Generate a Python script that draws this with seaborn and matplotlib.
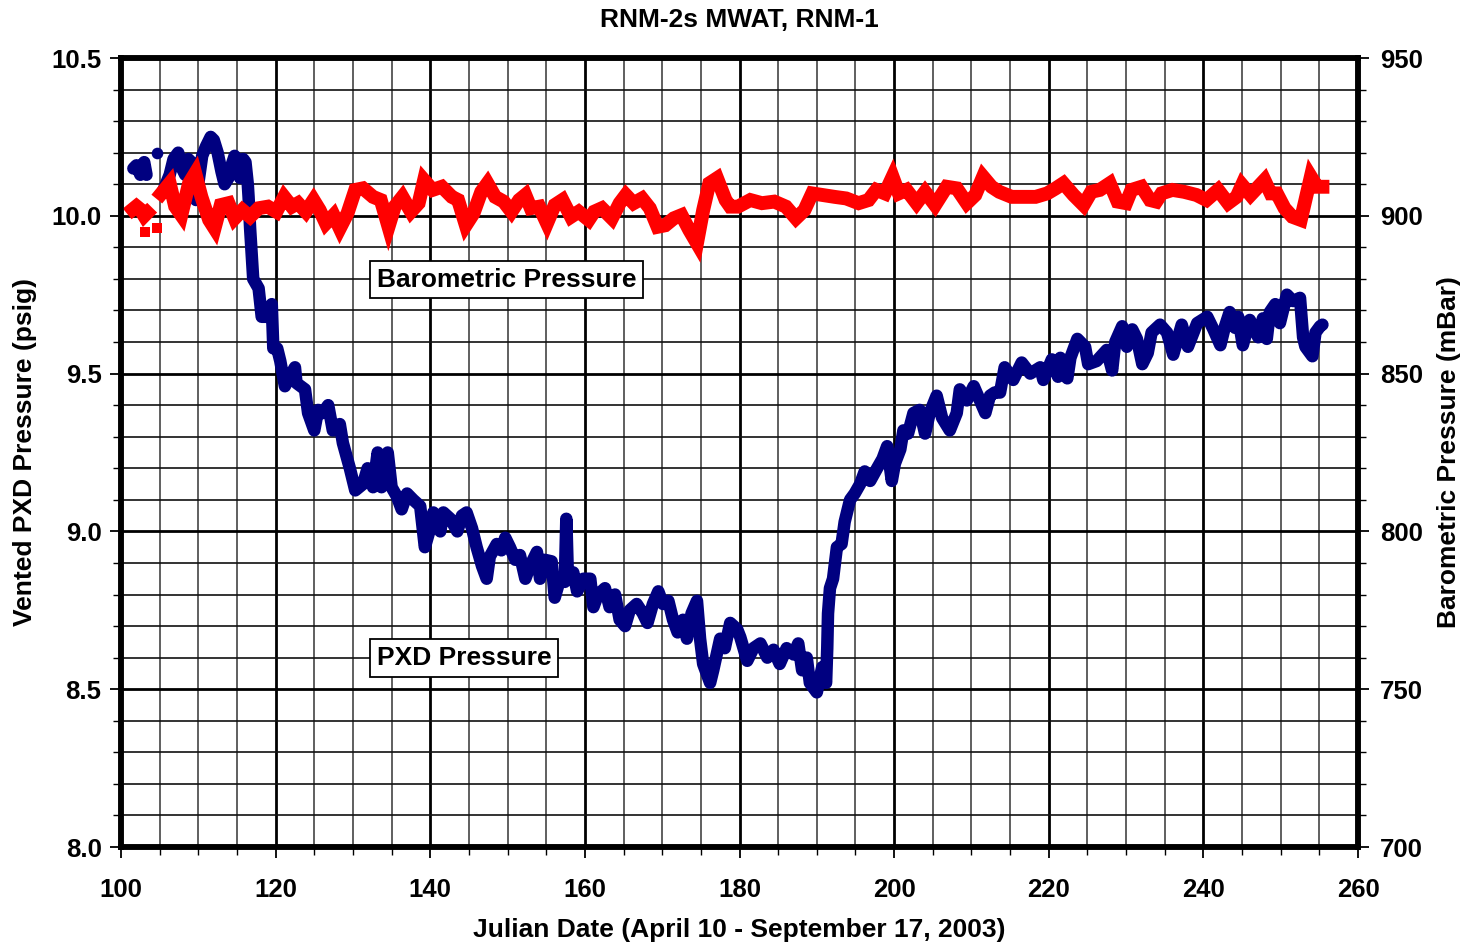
import numpy as np
import pandas as pd
import matplotlib
matplotlib.use("Agg")
import matplotlib.pyplot as plt
from matplotlib.ticker import MultipleLocator, FormatStrFormatter
import seaborn as sns

# ---------------- data ----------------
title = "RNM-2s MWAT, RNM-1"
xlabel = "Julian Date (April 10 - September 17, 2003)"
ylabel_left = "Vented PXD Pressure (psig)"
ylabel_right = "Barometric Pressure (mBar)"
label_baro = "Barometric Pressure"
label_pxd = "PXD Pressure"

# PXD pressure (psig) - first short cluster, one isolated reading, main record
pxd_day_a = [101.6, 102.0, 102.5, 103.0, 103.3]
pxd_psig_a = [10.15, 10.16, 10.13, 10.17, 10.13]
pxd_day_iso = [104.7]
pxd_psig_iso = [10.20]
pxd_day = [105.3, 105.8, 106.3, 106.8, 107.4, 107.9, 108.3, 108.7, 109.1, 109.4,
           109.7, 110.1, 110.5, 111.0, 111.6, 112.0, 112.5, 113.0, 113.4, 113.9,
           114.3, 114.7, 115.1, 115.4, 115.8, 116.1, 116.4, 116.5, 116.7, 117.1,
           117.8, 118.2, 119.0, 119.5, 119.7, 120.2, 120.6, 121.2, 121.6, 122.5,
           122.7, 123.8, 124.2, 125.0, 125.5, 126.1, 126.8, 127.4, 128.3, 128.7,
           129.6, 130.3, 131.3, 131.9, 132.6, 133.2, 133.7, 134.5, 135.0, 135.7,
           136.3, 137.0, 137.8, 138.7, 139.3, 140.0, 140.4, 141.3, 141.7, 142.6,
           143.5, 144.1, 144.7, 145.4, 146.0, 146.7, 147.3, 147.7, 148.6, 149.2,
           149.7, 150.3, 151.0, 151.6, 152.3, 152.9, 153.8, 154.2, 154.8, 155.7,
           156.1, 156.8, 157.4, 157.6, 157.8, 158.5, 159.0, 159.8, 160.7, 161.1,
           161.7, 162.6, 163.2, 163.9, 164.5, 165.2, 165.8, 166.7, 167.5, 168.1,
           168.8, 169.5, 170.1, 170.8, 171.4, 172.0, 172.7, 173.2, 173.8, 174.5,
           174.9, 175.3, 175.9, 176.2, 176.6, 177.5, 178.1, 178.8, 179.7, 180.1,
           181.0, 181.8, 182.7, 183.6, 184.4, 185.2, 186.1, 187.0, 187.6, 188.1,
           188.7, 189.1, 190.0, 190.7, 191.2, 191.35, 191.45, 191.7, 192.1, 192.6,
           193.2, 193.6, 194.3, 194.9, 195.6, 196.2, 196.9, 197.8, 198.5, 199.1,
           199.7, 200.1, 200.8, 201.2, 201.8, 202.5, 203.3, 204.0, 204.6, 205.5,
           206.2, 207.2, 208.1, 208.5, 209.4, 210.3, 211.8, 212.4, 213.0, 213.7,
           214.3, 215.4, 216.5, 217.6, 218.9, 219.3, 220.4, 221.2, 221.5, 222.4,
           222.8, 223.7, 224.7, 225.1, 226.2, 227.5, 228.2, 228.6, 229.5, 230.1,
           230.8, 231.4, 232.1, 232.8, 233.3, 234.4, 235.3, 236.1, 237.2, 238.0,
           239.2, 240.5, 241.3, 242.2, 242.8, 243.4, 244.1, 244.5, 245.1, 246.0,
           247.1, 247.7, 248.2, 248.6, 249.3, 249.9, 250.8, 251.6, 252.5, 252.9,
           253.2, 254.1, 254.5, 255.1, 255.4]
pxd_psig = [10.07, 10.10, 10.13, 10.18, 10.20, 10.15, 10.13, 10.18, 10.17, 10.12,
            10.05, 10.12, 10.19, 10.22, 10.25, 10.24, 10.20, 10.14, 10.10, 10.12,
            10.16, 10.19, 10.15, 10.12, 10.18, 10.17, 10.10, 10.06, 9.96, 9.80,
            9.77, 9.68, 9.68, 9.72, 9.58, 9.58, 9.54, 9.46, 9.48, 9.52,
            9.47, 9.45, 9.375, 9.32, 9.385, 9.375, 9.40, 9.32, 9.34, 9.28,
            9.20, 9.13, 9.15, 9.20, 9.14, 9.25, 9.14, 9.25, 9.14, 9.11,
            9.07, 9.12, 9.10, 9.08, 8.95, 9.01, 9.06, 9.00, 9.06, 9.04,
            9.00, 9.05, 9.06, 9.01, 8.95, 8.89, 8.85, 8.92, 8.96, 8.94,
            8.98, 8.95, 8.91, 8.925, 8.85, 8.89, 8.935, 8.85, 8.91, 8.905,
            8.79, 8.85, 8.84, 9.04, 8.86, 8.87, 8.81, 8.85, 8.85, 8.76,
            8.80, 8.82, 8.76, 8.80, 8.72, 8.70, 8.75, 8.77, 8.74, 8.71,
            8.77, 8.81, 8.77, 8.78, 8.72, 8.68, 8.72, 8.66, 8.74, 8.78,
            8.66, 8.58, 8.54, 8.52, 8.56, 8.66, 8.63, 8.71, 8.69, 8.665,
            8.59, 8.63, 8.645, 8.60, 8.625, 8.58, 8.63, 8.61, 8.645, 8.56,
            8.60, 8.52, 8.49, 8.57, 8.52, 8.63, 8.74, 8.82, 8.85, 8.95,
            8.96, 9.03, 9.10, 9.12, 9.15, 9.19, 9.16, 9.20, 9.23, 9.27,
            9.16, 9.215, 9.26, 9.32, 9.31, 9.375, 9.385, 9.31, 9.375, 9.43,
            9.36, 9.32, 9.375, 9.45, 9.415, 9.46, 9.375, 9.43, 9.44, 9.44,
            9.52, 9.48, 9.535, 9.50, 9.52, 9.48, 9.545, 9.49, 9.55, 9.485,
            9.55, 9.61, 9.585, 9.53, 9.54, 9.575, 9.51, 9.60, 9.65, 9.585,
            9.64, 9.61, 9.53, 9.565, 9.63, 9.655, 9.63, 9.56, 9.655, 9.585,
            9.66, 9.68, 9.64, 9.59, 9.65, 9.695, 9.645, 9.68, 9.59, 9.67,
            9.615, 9.675, 9.61, 9.695, 9.72, 9.66, 9.75, 9.73, 9.74, 9.615,
            9.585, 9.555, 9.63, 9.65, 9.655]

# Barometric pressure (mBar)
baro_day_a = [101.5, 102.0, 102.5, 103.0, 103.4]
baro_mbar_a = [902.0, 903.0, 902.0, 900.0, 901.0]
baro_day_iso = [103.1, 104.65]
baro_mbar_iso = [894.9, 896.1]
baro_day = [105.2, 106.3, 107.0, 107.8, 108.8, 109.6, 110.4, 111.4, 112.1, 112.9,
            113.9, 114.7, 115.7, 116.7, 117.8, 119.0, 120.1, 121.1, 122.1, 122.9,
            123.9, 124.9, 125.7, 126.5, 127.5, 128.3, 129.3, 130.3, 131.3, 132.6,
            133.6, 134.6, 135.4, 136.4, 137.5, 138.5, 139.2, 140.3, 141.5, 142.8,
            143.6, 144.6, 145.6, 146.6, 147.4, 148.4, 149.5, 150.5, 151.5, 152.3,
            153.0, 154.1, 155.1, 156.1, 157.1, 158.2, 159.2, 160.5, 161.2, 162.2,
            163.5, 164.5, 165.3, 166.3, 167.4, 168.4, 169.4, 170.4, 171.5, 172.5,
            173.5, 174.5, 175.3, 176.1, 177.1, 178.2, 178.8, 179.8, 181.4, 182.9,
            184.5, 186.0, 187.3, 188.4, 189.4, 190.7, 192.3, 193.8, 195.4, 196.7,
            197.7, 198.8, 199.8, 200.6, 201.6, 202.9, 204.0, 205.3, 206.8, 208.1,
            209.4, 210.5, 211.5, 212.6, 213.6, 215.2, 216.7, 218.3, 219.8, 220.9,
            221.9, 223.2, 224.5, 225.5, 226.6, 227.9, 228.9, 230.0, 230.7, 232.0,
            233.1, 233.9, 234.6, 236.0, 237.5, 239.1, 240.4, 241.9, 243.2, 244.3,
            245.0, 246.1, 247.1, 247.9, 248.7, 249.5, 250.5, 251.5, 252.6, 253.1,
            253.9, 254.7, 255.4]
baro_mbar = [907.0, 910.3, 903.0, 900.2, 910.3, 913.5, 906.0, 898.7, 896.0, 903.4,
             904.0, 899.2, 901.8, 899.7, 902.4, 902.9, 901.3, 906.0, 902.9, 904.0,
             901.3, 905.0, 901.8, 897.6, 900.2, 896.0, 900.8, 908.2, 908.7, 906.0,
             905.0, 896.5, 902.9, 906.0, 901.3, 904.0, 911.3, 908.2, 909.2, 906.0,
             905.0, 897.0, 900.8, 907.6, 910.3, 906.0, 904.5, 901.3, 905.0, 906.6,
             902.4, 902.9, 897.6, 903.4, 905.0, 899.7, 901.3, 898.7, 901.3, 902.4,
             899.2, 904.0, 906.6, 904.0, 905.5, 902.4, 896.5, 897.0, 899.2, 900.2,
             895.5, 891.3, 901.8, 910.3, 911.9, 905.0, 902.9, 902.9, 905.0, 904.0,
             904.5, 902.9, 899.2, 901.8, 907.1, 906.6, 906.0, 905.5, 904.0, 905.0,
             908.2, 907.1, 912.4, 907.1, 908.2, 904.0, 907.6, 903.4, 909.2, 908.7,
             904.0, 906.6, 912.4, 909.2, 907.6, 906.0, 906.0, 906.0, 907.1, 908.7,
             910.3, 906.6, 903.4, 907.6, 908.2, 910.3, 904.5, 904.0, 908.2, 909.2,
             905.0, 904.5, 907.1, 908.2, 907.6, 906.6, 905.0, 908.2, 904.0, 906.0,
             909.8, 906.6, 909.2, 911.3, 907.1, 907.1, 902.4, 899.7, 898.7, 904.0,
             912.4, 909.2, 909.2]

x_ticks = [100, 120, 140, 160, 180, 200, 220, 240, 260]
y_left_ticks = [8.0, 8.5, 9.0, 9.5, 10.0, 10.5]
y_right_ticks = [700, 750, 800, 850, 900, 950]

# ---------------- style ----------------
sns.set_theme(style="white")
plt.rcParams["font.family"] = ["Liberation Sans", "DejaVu Sans"]
plt.rcParams["font.weight"] = "bold"
plt.rcParams["axes.labelweight"] = "bold"
plt.rcParams["axes.titleweight"] = "bold"
for key in ("text.color", "axes.labelcolor", "xtick.color", "ytick.color",
            "axes.edgecolor"):
    plt.rcParams[key] = "black"

BLUE = "#000080"
RED = "#FF0000"
FS_TICK = 18.5
FS_LAB = 19

fig = plt.figure(figsize=(14.68, 9.47), dpi=100)
ax = fig.add_axes([121 / 1468, 1 - 847 / 947, (1358 - 121) / 1468, (847 - 58) / 947])
ax2 = ax.twinx()

# grid
ax.set_xlim(x_ticks[0], x_ticks[-1])
ax.set_ylim(y_left_ticks[0], y_left_ticks[-1])
ax2.set_ylim(y_right_ticks[0], y_right_ticks[-1])
ax.xaxis.set_major_locator(MultipleLocator(20))
ax.xaxis.set_minor_locator(MultipleLocator(5))
ax.yaxis.set_major_locator(MultipleLocator(0.5))
ax.yaxis.set_minor_locator(MultipleLocator(0.1))
ax2.yaxis.set_major_locator(MultipleLocator(50))
ax2.yaxis.set_minor_locator(MultipleLocator(10))
ax.yaxis.set_major_formatter(FormatStrFormatter("%.1f"))
ax2.yaxis.set_major_formatter(FormatStrFormatter("%d"))

ax.grid(False)
ax2.grid(False)
ax.grid(True, which="major", axis="both", color="black", lw=2.0, zorder=0)
ax.grid(True, which="minor", axis="y", color="#111111", lw=1.2, zorder=0)
ax.grid(True, which="minor", axis="x", color="#444444", lw=1.2, zorder=0)
ax.set_axisbelow(True)

# PXD pressure series
lw_b = 9.0
sns.lineplot(x=pxd_day_a, y=pxd_psig_a, ax=ax, color=BLUE, lw=lw_b, sort=False,
             estimator=None, solid_capstyle="round", solid_joinstyle="round")
sns.lineplot(x=pxd_day, y=pxd_psig, ax=ax, color=BLUE, lw=lw_b, sort=False,
             estimator=None, solid_capstyle="round", solid_joinstyle="round")
sns.scatterplot(x=pxd_day_iso, y=pxd_psig_iso, ax=ax, color=BLUE, s=70,
                marker="o", edgecolor=BLUE, linewidth=0)

# Barometric series
lw_r = 10.0
sns.lineplot(x=baro_day_a, y=baro_mbar_a, ax=ax2, color=RED, lw=lw_r, sort=False,
             estimator=None, solid_capstyle="projecting", solid_joinstyle="miter")
sns.lineplot(x=baro_day, y=baro_mbar, ax=ax2, color=RED, lw=lw_r, sort=False,
             estimator=None, solid_capstyle="projecting", solid_joinstyle="miter")
sns.scatterplot(x=baro_day_iso, y=baro_mbar_iso, ax=ax2, color=RED, s=60,
                marker="s", edgecolor=RED, linewidth=0)

# ticks / labels
ax.set_xticks(x_ticks)
ax.set_yticks(y_left_ticks)
ax2.set_yticks(y_right_ticks)
ax.tick_params(axis="both", which="major", direction="out", length=8, width=1.3,
               labelsize=FS_TICK, color="black", labelcolor="black")
ax.tick_params(axis="both", which="minor", direction="out", length=6, width=1.0,
               color="black")
ax.tick_params(axis="x", which="both", bottom=True, top=False)
ax.tick_params(axis="y", which="both", left=True, right=False)
ax2.tick_params(axis="y", which="major", direction="out", length=8, width=1.3,
                labelsize=FS_TICK, color="black", labelcolor="black", pad=8,
                right=True)
ax2.tick_params(axis="y", which="minor", direction="out", length=6, width=1.0,
                color="black", right=True)
ax.tick_params(axis="y", pad=6)
ax.tick_params(axis="x", pad=14)
for lab in ax.get_xticklabels() + ax.get_yticklabels() + ax2.get_yticklabels():
    lab.set_fontweight("bold")

for a in (ax, ax2):
    for sp in a.spines.values():
        sp.set_visible(True)
        sp.set_color("black")
        sp.set_linewidth(4)

ax.set_xlabel(xlabel, fontsize=FS_LAB, fontweight="bold", labelpad=12, color="black")
ax.set_ylabel(ylabel_left, fontsize=FS_LAB, fontweight="bold", labelpad=10, color="black")
ax2.set_ylabel(ylabel_right, fontsize=FS_LAB, fontweight="bold", labelpad=10, color="black")
ax.set_title(title, fontsize=FS_LAB, fontweight="bold", pad=22, color="black")

box = dict(boxstyle="square,pad=0.25", facecolor="white", edgecolor="black", lw=1.3)
ax.text(149.9, 9.797, label_baro, ha="center", va="center", fontsize=FS_LAB,
        fontweight="bold", bbox=box, zorder=10, color="black")
ax.text(144.4, 8.599, label_pxd, ha="center", va="center", fontsize=FS_LAB,
        fontweight="bold", bbox=box, zorder=10, color="black")

fig.savefig("out.png", dpi=100, facecolor="white")
